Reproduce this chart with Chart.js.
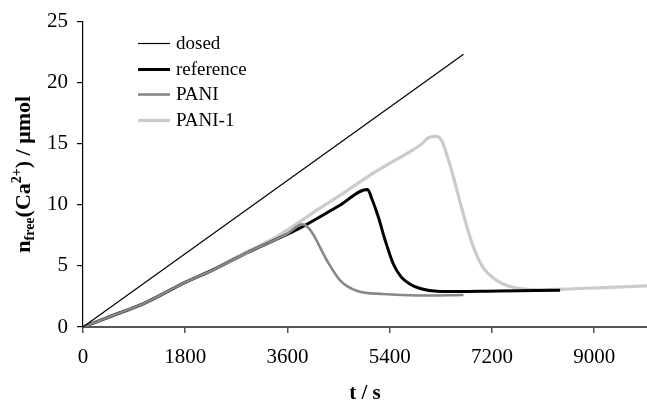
<!DOCTYPE html>
<html>
<head>
<meta charset="utf-8">
<script src="https://cdn.jsdelivr.net/npm/chart.js@4.4.1/dist/chart.umd.min.js"></script>
<style>
  html, body { margin: 0; padding: 0; background: #fff; }
  #wrap { width: 647px; height: 404px; }
</style>
</head>
<body>
<div id="wrap"><canvas id="chart" width="647" height="404"></canvas></div>
<script>
// time (s) and free Ca2+ (umol)
const tDosed = [0, 6700];
const nDosed = [0, 22.33];

const tRef = [0, 500, 1100, 1800, 2300, 2900, 3600, 3900, 4500, 5010, 5085, 5200, 5320, 5460, 5600, 5760, 5935, 6290, 7340, 8400];
const nRef = [0, 0.9, 2.0, 3.65, 4.7, 6.1, 7.6, 8.3, 9.9, 11.25, 10.5, 9.0, 7.1, 5.2, 4.1, 3.5, 3.15, 2.9, 2.95, 3.0];

const tPani = [0, 500, 1100, 1800, 2300, 2900, 3600, 3860, 3950, 4050, 4300, 4530, 4830, 5280, 5900, 6700];
const nPani = [0, 0.9, 2.0, 3.65, 4.7, 6.1, 7.65, 8.4, 8.2, 7.6, 5.4, 3.8, 2.95, 2.7, 2.58, 2.62];

const tPani1 = [0, 500, 1100, 1800, 2300, 2900, 3300, 3600, 4000, 4530, 4820, 5110, 5400, 5700, 5940, 6110, 6230, 6320, 6405, 6520, 6640, 6760, 6870, 7040, 7290, 7570, 8050, 8630, 9930];
const nPani1 = [0, 0.85, 1.95, 3.65, 4.75, 6.2, 7.1, 7.95, 9.2, 10.8, 11.7, 12.6, 13.4, 14.2, 14.9, 15.55, 15.6, 15.2, 14.1, 12.3, 10.2, 8.2, 6.6, 4.9, 3.8, 3.25, 3.05, 3.13, 3.37];

const seriesNames = ['dosed', 'reference', 'PANI', 'PANI-1'];
const xTicks = [0, 1800, 3600, 5400, 7200, 9000];
const yTicks = [0, 5, 10, 15, 20, 25];

const serif = "'Liberation Serif', 'Times New Roman', serif";

function pts(xs, ys) {
    return xs.map((x, i) => ({ x: x, y: ys[i] }));
}

// legend in the upper left of the plot, drawn by hand
const sideLegend = {
    id: 'sideLegend',
    afterDraw(chart) {
        const ctx = chart.ctx;
        ctx.save();
        ctx.font = '19px ' + serif;
        ctx.textBaseline = 'middle';
        ctx.fillStyle = '#000';
        chart.data.datasets.forEach((ds, i) => {
            const y = Math.round(43 + i * 25.7) + 0.5;
            ctx.beginPath();
            ctx.strokeStyle = ds.borderColor;
            ctx.lineWidth = ds.borderWidth;
            ctx.moveTo(138, y);
            ctx.lineTo(170, y);
            ctx.stroke();
            ctx.fillText(ds.label, 176, y + 1);
        });
        ctx.restore();
    }
};

// y title with subscript and superscript
const yTitle = {
    id: 'yTitle',
    afterDraw(chart) {
        const ctx = chart.ctx;
        const area = chart.chartArea;
        const parts = [
            { text: 'n', size: 22, dy: 0 },
            { text: 'free', size: 14, dy: 4 },
            { text: '(Ca', size: 22, dy: 0 },
            { text: '2+', size: 14, dy: -9 },
            { text: ') / μmol', size: 22, dy: 0 }
        ];
        ctx.save();
        ctx.fillStyle = '#000';
        ctx.textBaseline = 'alphabetic';
        let total = 0;
        parts.forEach(p => {
            ctx.font = 'bold ' + p.size + 'px ' + serif;
            p.w = ctx.measureText(p.text).width;
            total += p.w;
        });
        ctx.translate(30, (area.top + area.bottom) / 2);
        ctx.rotate(-Math.PI / 2);
        let x = -total / 2;
        parts.forEach(p => {
            ctx.font = 'bold ' + p.size + 'px ' + serif;
            ctx.fillText(p.text, x, p.dy);
            x += p.w;
        });
        ctx.restore();
    }
};

new Chart(document.getElementById('chart'), {
    type: 'line',
    data: {
        datasets: [
            { label: seriesNames[0], data: pts(tDosed, nDosed), borderColor: '#000', borderWidth: 1.2, order: 0 },
            { label: seriesNames[1], data: pts(tRef, nRef), borderColor: '#000', borderWidth: 3, order: 2 },
            { label: seriesNames[2], data: pts(tPani, nPani), borderColor: '#888', borderWidth: 2.6, order: 1 },
            { label: seriesNames[3], data: pts(tPani1, nPani1), borderColor: '#cbcbcb', borderWidth: 3.2, order: 3 }
        ]
    },
    options: {
        responsive: false,
        animation: false,
        elements: {
            point: { radius: 0 },
            line: { cubicInterpolationMode: 'monotone', fill: false }
        },
        layout: { padding: { top: 19, right: 0, bottom: 0, left: 0 } },
        plugins: {
            legend: { display: false },
            tooltip: { enabled: false }
        },
        scales: {
            x: {
                type: 'linear',
                min: 0,
                max: 9930,
                afterFit: s => { s.height = 77; },
                afterBuildTicks: s => { s.ticks = xTicks.map(v => ({ value: v })); },
                ticks: { color: '#000', font: { family: serif, size: 21 }, padding: 12, maxRotation: 0, callback: v => String(v) },
                grid: { drawOnChartArea: false, tickLength: 6, tickColor: '#555', lineWidth: 1.5 },
                border: { color: '#555', width: 2 },
                title: {
                    display: true,
                    text: 't / s',
                    color: '#000',
                    font: { family: serif, size: 21, weight: 'bold', lineHeight: 1 },
                    padding: { top: 0, bottom: 0 }
                }
            },
            y: {
                min: 0,
                max: 25,
                afterFit: s => { s.width = 83; },
                afterBuildTicks: s => { s.ticks = yTicks.map(v => ({ value: v })); },
                ticks: { color: '#000', font: { family: serif, size: 21 }, padding: 9, callback: v => String(v) },
                grid: { drawOnChartArea: false, tickLength: 6, tickColor: '#000', lineWidth: 1.2 },
                border: { color: '#000', width: 1.2 }
            }
        }
    },
    plugins: [sideLegend, yTitle]
});
</script>
</body>
</html>
